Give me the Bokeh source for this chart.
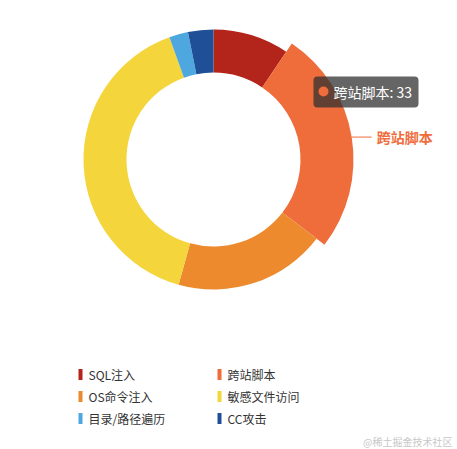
import numpy as np
from bokeh.plotting import figure
from bokeh.models import Range1d, BoxAnnotation, ColumnDataSource
from bokeh.core.properties import value
from bokeh.embed import file_html
from bokeh.resources import INLINE

# attack types and counts
categories = ["SQL注入", "跨站脚本", "OS命令注入", "敏感文件访问", "目录/路径遍历", "CC攻击"]
counts = [12, 33, 24, 51, 3, 4]
colors = ["#b3241a", "#ef6c3b", "#ec8a2d", "#f4d53b", "#4ea8df", "#1e4f97"]
hovered = 1  # slice shown highlighted with tooltip

font = "Noto Sans CJK SC"

# one data unit = one pixel, y is negative page y
p = figure(width=457, height=449, x_range=Range1d(0, 457), y_range=Range1d(-449, 0),
           output_backend="svg", toolbar_location=None, min_border=0,
           x_axis_type=None, y_axis_type=None)
p.grid.visible = False
p.outline_line_color = None

cx, cy = 213, -159
r_in, r_out, r_hover = 87, 130, 140

frac = np.array(counts) / sum(counts)
cum = np.cumsum(frac)
start = np.pi / 2 - (cum - frac) * 2 * np.pi
end = np.pi / 2 - cum * 2 * np.pi
outer = [r_hover if i == hovered else r_out for i in range(len(counts))]

src = ColumnDataSource(dict(start=start, end=end, outer=outer, color=colors))
p.annular_wedge(x=cx, y=cy, inner_radius=r_in, outer_radius="outer",
                start_angle="start", end_angle="end", direction="clock",
                fill_color="color", line_color=None, source=src)

# label with leader line for the highlighted slice
mid = (start[hovered] + end[hovered]) / 2
lx = cx + r_hover * np.cos(mid)
ly = cy + r_hover * np.sin(mid)
p.line([lx, lx + 20], [ly, ly], line_color=colors[hovered], line_width=1)
p.text([lx + 25], [ly], text=[categories[hovered]], text_font=value(font),
       text_font_size="14px", text_font_style="bold", text_color=colors[hovered],
       text_baseline="middle")

# tooltip
tip = BoxAnnotation(left=313, right=418, top=-76, bottom=-107, fill_color="#323232",
                    fill_alpha=0.75, line_color=None, border_radius=4)
p.add_layout(tip)
p.scatter([323], [-91], size=10, fill_color=colors[hovered], line_color=None,
          level="overlay")
p.text([333], [-91], text=[f"{categories[hovered]}: {counts[hovered]}"],
       text_font=value(font), text_font_size="14px", text_color="white",
       text_baseline="middle", level="overlay")

# legend, two columns
lx_m = [80 + (i % 2) * 139 for i in range(len(categories))]
ly_m = [-(374 + 22 * (i // 2)) for i in range(len(categories))]
p.rect(lx_m, ly_m, width=4, height=11, fill_color=colors, line_color=None)
p.text([x + 8 for x in lx_m], ly_m, text=categories, text_font=value(font),
       text_font_size="12px", text_color="#333333", text_baseline="middle")

# watermark
p.text([452], [-441], text=["@稀土掘金技术社区"], text_font=value(font),
       text_font_size="10px", text_color="#c8c8c8", text_align="right",
       text_baseline="middle")

open("out.html", "w").write(file_html(p, INLINE))
